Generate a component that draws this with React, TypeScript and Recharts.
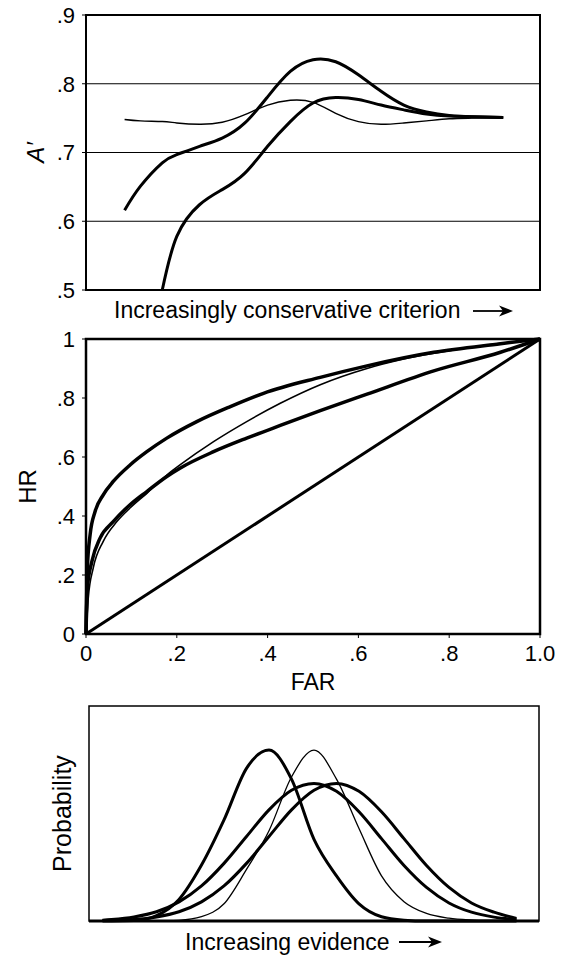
import {
  CartesianGrid,
  Line,
  LineChart,
  ReferenceArea,
  ReferenceLine,
  XAxis,
  YAxis,
} from "recharts";

const FONT = '"Liberation Sans", Arial, Helvetica, sans-serif';

// top panel: A' along an increasingly conservative criterion (x is 0..1 across the box)
const critX = [0.085, 0.12, 0.168, 0.2, 0.25, 0.3, 0.35, 0.4, 0.45, 0.5, 0.55, 0.6, 0.65, 0.7, 0.75, 0.8, 0.85, 0.919];
const aFlat = [0.748, 0.746, 0.745, 0.743, 0.741, 0.744, 0.755, 0.769, 0.776, 0.773, 0.757, 0.745, 0.741, 0.743, 0.746, 0.749, 0.75, 0.751];
const aPeak = [0.616, 0.651, 0.685, 0.697, 0.709, 0.721, 0.743, 0.781, 0.818, 0.835, 0.832, 0.813, 0.789, 0.769, 0.759, 0.754, 0.752, 0.751];
const aLow = [null, null, 0.5, 0.578, 0.624, 0.646, 0.67, 0.709, 0.745, 0.772, 0.78, 0.777, 0.769, 0.762, 0.756, 0.753, 0.752, 0.751];
const aTicks = [0.5, 0.6, 0.7, 0.8, 0.9];

// middle panel: ROC curves, HR against FAR
const rocTicks = [0, 0.2, 0.4, 0.6, 0.8, 1];
const topFar = [0, 0.003, 0.009, 0.02, 0.038, 0.06, 0.097, 0.134, 0.178, 0.244, 0.318, 0.391, 0.516, 0.619, 0.766, 0.913, 1];
const topHr = [0, 0.224, 0.336, 0.415, 0.472, 0.517, 0.573, 0.618, 0.664, 0.72, 0.771, 0.816, 0.87, 0.909, 0.955, 0.984, 1];
const thinFar = [0, 0.005, 0.016, 0.038, 0.068, 0.097, 0.134, 0.178, 0.207, 0.281, 0.354, 0.428, 0.516, 0.619, 0.7, 0.85, 1];
const thinHr = [0, 0.122, 0.224, 0.314, 0.381, 0.427, 0.477, 0.539, 0.573, 0.652, 0.72, 0.782, 0.845, 0.9, 0.932, 0.972, 1];
const midFar = [0, 0.003, 0.013, 0.031, 0.06, 0.097, 0.134, 0.178, 0.207, 0.281, 0.354, 0.428, 0.516, 0.619, 0.766, 0.913, 1];
const midHr = [0, 0.156, 0.246, 0.325, 0.381, 0.438, 0.483, 0.534, 0.562, 0.618, 0.664, 0.707, 0.757, 0.813, 0.892, 0.955, 1];
const chanceFar = [0, 1];
const chanceHr = [0, 1];

// bottom panel: evidence distributions
const evX = [0.03, 0.05, 0.1, 0.15, 0.2, 0.25, 0.3, 0.35, 0.4, 0.45, 0.5, 0.55, 0.6, 0.65, 0.7, 0.75, 0.8, 0.85, 0.9, 0.95];
const noise = [0, 0, 0.002, 0.025, 0.1, 0.26, 0.47, 0.71, 0.795, 0.66, 0.38, 0.21, 0.08, 0.02, 0.004, 0, 0, 0, 0, 0];
const signalThin = [0, 0, 0, 0, 0.003, 0.02, 0.08, 0.24, 0.42, 0.67, 0.795, 0.66, 0.43, 0.21, 0.09, 0.035, 0.013, 0.004, 0, 0];
const signalWide = [0.004, 0.007, 0.019, 0.043, 0.089, 0.163, 0.268, 0.393, 0.517, 0.608, 0.64, 0.603, 0.508, 0.383, 0.258, 0.156, 0.084, 0.041, 0.018, 0.007];
const signalShift = [0.002, 0.003, 0.007, 0.019, 0.043, 0.089, 0.163, 0.268, 0.393, 0.517, 0.608, 0.64, 0.603, 0.508, 0.383, 0.258, 0.156, 0.084, 0.041, 0.012];

const critRows = critX.map((x, i) => ({ x, flat: aFlat[i], peak: aPeak[i], low: aLow[i] }));
const evRows = evX.map((x, i) => ({ x, n: noise[i], t: signalThin[i], w: signalWide[i], s: signalShift[i] }));
const pts = (xs: number[], ys: number[]) => xs.map((x, i) => ({ x, y: ys[i] }));

const tickStyle = { fill: "#000", fontSize: 22, fontFamily: FONT };

const yTitle =
  (text: string, baseX: number, size: number, italic = false) =>
  (props: any) => {
    const vb = props.viewBox || {};
    const cy = (vb.y ?? 0) + (vb.height ?? 0) / 2;
    return (
      <text
        x={baseX}
        y={cy}
        transform={`rotate(-90 ${baseX} ${cy})`}
        textAnchor="middle"
        fontSize={size}
        fontStyle={italic ? "italic" : "normal"}
        fontFamily={FONT}
        fill="#000"
      >
        {text}
      </text>
    );
  };

const arrowTitle =
  (text: string, tx: number, ty: number, a1: number, a2: number, ay: number) =>
  (props: any) => {
    const vb = props.viewBox || {};
    const x0 = vb.x ?? 0;
    const y0 = vb.y ?? 0;
    const ex = x0 + a2;
    const yy = y0 + ay;
    return (
      <g>
        <text x={x0 + tx} y={y0 + ty} fontSize={23} fontFamily={FONT} fill="#000">
          {text}
        </text>
        <line x1={x0 + a1} y1={yy} x2={ex - 8} y2={yy} stroke="#000" strokeWidth={1.8} />
        <path d={`M${ex} ${yy} L${ex - 14} ${yy - 5.5} L${ex - 10} ${yy} L${ex - 14} ${yy + 5.5} Z`} fill="#000" />
      </g>
    );
  };

function CriterionPanel() {
  return (
    <LineChart width={564} height={330} data={critRows} margin={{ top: 15, right: 24, bottom: 0, left: 0 }}>
      <CartesianGrid vertical={false} stroke="#000" strokeWidth={1.2} />
      <XAxis
        dataKey="x"
        type="number"
        domain={[0, 1]}
        tick={false}
        tickLine={false}
        axisLine={false}
        height={40}
        label={{ content: arrowTitle("Increasingly conservative criterion", 28, 28, 387, 427, 21) }}
      />
      <YAxis
        type="number"
        domain={[0.5, 0.9]}
        ticks={aTicks}
        interval={0}
        width={86}
        axisLine={false}
        tickLine={{ stroke: "#000" }}
        tickSize={4}
        tickMargin={7}
        tick={tickStyle}
        tickFormatter={(v: number) => "." + Math.round(v * 10)}
        label={{ content: yTitle("A′", 44, 24, true) }}
      />
      <ReferenceArea x1={0} x2={1} y1={0.5} y2={0.9} fill="none" stroke="#000" strokeWidth={2} />
      <Line dataKey="flat" type="natural" stroke="#000" strokeWidth={1.4} dot={false} isAnimationActive={false} />
      <Line dataKey="peak" type="natural" stroke="#000" strokeWidth={3} dot={false} isAnimationActive={false} />
      <Line dataKey="low" type="natural" stroke="#000" strokeWidth={3} dot={false} isAnimationActive={false} />
    </LineChart>
  );
}

function RocPanel() {
  const fmt = (v: number) => (v === 0 ? "0" : v === 1 ? "1" : "." + Math.round(v * 10));
  return (
    <LineChart width={564} height={380} margin={{ top: 19, right: 24, bottom: 0, left: 0 }}>
      <XAxis
        dataKey="x"
        type="number"
        domain={[0, 1]}
        ticks={rocTicks}
        interval={0}
        height={66}
        axisLine={false}
        tickLine={{ stroke: "#000" }}
        tickSize={4}
        tickMargin={7}
        tick={tickStyle}
        tickFormatter={(v: number) => (v === 1 ? "1.0" : fmt(v))}
        label={{
          content: (p: any) => {
            const vb = p.viewBox || {};
            return (
              <text
                x={(vb.x ?? 0) + (vb.width ?? 0) / 2}
                y={(vb.y ?? 0) + 56}
                textAnchor="middle"
                fontSize={23}
                fontFamily={FONT}
                fill="#000"
              >
                FAR
              </text>
            );
          },
        }}
      />
      <YAxis
        dataKey="y"
        type="number"
        domain={[0, 1]}
        ticks={rocTicks}
        interval={0}
        width={86}
        axisLine={false}
        tickLine={{ stroke: "#000" }}
        tickSize={4}
        tickMargin={7}
        tick={tickStyle}
        tickFormatter={fmt}
        label={{ content: yTitle("HR", 36, 24) }}
      />
      <ReferenceArea x1={0} x2={1} y1={0} y2={1} fill="none" stroke="#000" strokeWidth={2.5} />
      <Line data={pts(chanceFar, chanceHr)} dataKey="y" type="linear" stroke="#000" strokeWidth={3} dot={false} isAnimationActive={false} />
      <Line data={pts(midFar, midHr)} dataKey="y" type="monotone" stroke="#000" strokeWidth={3.5} dot={false} isAnimationActive={false} />
      <Line data={pts(thinFar, thinHr)} dataKey="y" type="monotone" stroke="#000" strokeWidth={1.6} dot={false} isAnimationActive={false} />
      <Line data={pts(topFar, topHr)} dataKey="y" type="monotone" stroke="#000" strokeWidth={3.5} dot={false} isAnimationActive={false} />
    </LineChart>
  );
}

function EvidencePanel() {
  return (
    <LineChart width={564} height={256} data={evRows} margin={{ top: 6, right: 25, bottom: 0, left: 0 }}>
      <XAxis
        dataKey="x"
        type="number"
        domain={[0, 1]}
        tick={false}
        tickLine={false}
        axisLine={false}
        height={35}
        label={{ content: arrowTitle("Increasing evidence", 96, 29, 310, 353, 21) }}
      />
      <YAxis
        type="number"
        domain={[0, 1]}
        tick={false}
        tickLine={false}
        axisLine={false}
        width={89}
        label={{ content: yTitle("Probability", 71, 25) }}
      />
      <ReferenceArea x1={0} x2={1} y1={0} y2={1} fill="none" stroke="#000" strokeWidth={1.5} />
      <ReferenceLine y={0} stroke="#000" strokeWidth={3} />
      <Line dataKey="n" type="monotone" stroke="#000" strokeWidth={3} dot={false} isAnimationActive={false} />
      <Line dataKey="t" type="monotone" stroke="#000" strokeWidth={1.3} dot={false} isAnimationActive={false} />
      <Line dataKey="w" type="monotone" stroke="#000" strokeWidth={3} dot={false} isAnimationActive={false} />
      <Line dataKey="s" type="monotone" stroke="#000" strokeWidth={3} dot={false} isAnimationActive={false} />
    </LineChart>
  );
}

export default function App() {
  return (
    <div style={{ position: "absolute", left: 0, top: 0, width: 564, height: 956, background: "#fff", fontFamily: FONT }}>
      <div style={{ position: "absolute", left: 0, top: 0 }}>
        <CriterionPanel />
      </div>
      <div style={{ position: "absolute", left: 0, top: 320 }}>
        <RocPanel />
      </div>
      <div style={{ position: "absolute", left: 0, top: 700 }}>
        <EvidencePanel />
      </div>
    </div>
  );
}
